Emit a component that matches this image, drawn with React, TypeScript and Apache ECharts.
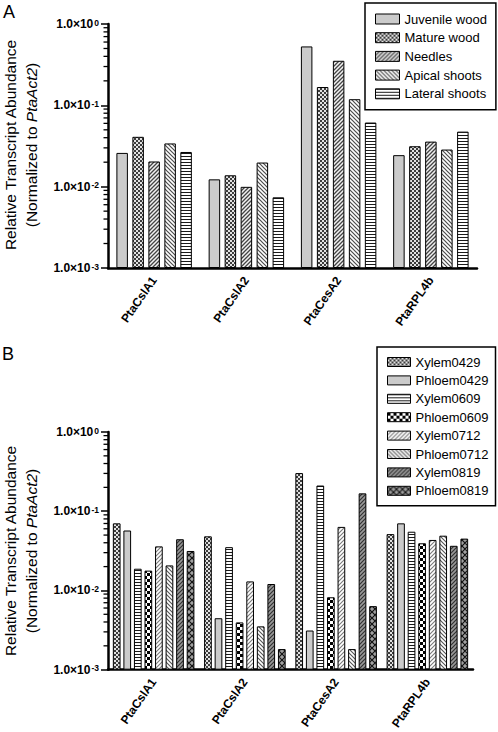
import React, { useEffect, useRef } from 'react';
import * as echarts from 'echarts';

const FONT = 'Liberation Sans, Arial, Helvetica, sans-serif';

const categories = ['PtaCslA1', 'PtaCslA2', 'PtaCesA2', 'PtaRPL4b'];

// Panel A
const namesA = ['Juvenile wood', 'Mature wood', 'Needles', 'Apical shoots', 'Lateral shoots'];
const juvenileWood = [0.026, 0.0123, 0.53, 0.0244];
const matureWood = [0.041, 0.0138, 0.168, 0.0314];
const needles = [0.0204, 0.00995, 0.353, 0.0358];
const apicalShoots = [0.034, 0.0198, 0.119, 0.0286];
const lateralShoots = [0.0267, 0.0074, 0.0614, 0.0475];

// Panel B
const namesB = ['Xylem0429', 'Phloem0429', 'Xylem0609', 'Phloem0609', 'Xylem0712', 'Phloem0712', 'Xylem0819', 'Phloem0819'];
const xylem0429 = [0.0703, 0.0482, 0.303, 0.0514];
const phloem0429 = [0.0571, 0.00446, 0.00312, 0.0703];
const xylem0609 = [0.0188, 0.0352, 0.211, 0.0551];
const phloem0609 = [0.0178, 0.00395, 0.0082, 0.0394];
const xylem0712 = [0.036, 0.013, 0.0634, 0.0434];
const phloem0712 = [0.0207, 0.00352, 0.00182, 0.0491];
const xylem0819 = [0.0443, 0.01206, 0.168, 0.0366];
const phloem0819 = [0.0315, 0.00182, 0.00634, 0.0451];

const yMin = 0.001;
const yMax = 1;
const minorTickValues = [
  0.002, 0.003, 0.004, 0.005, 0.006, 0.007, 0.008, 0.009,
  0.02, 0.03, 0.04, 0.05, 0.06, 0.07, 0.08, 0.09,
  0.2, 0.3, 0.4, 0.5, 0.6, 0.7, 0.8, 0.9,
];

type Kind = 'solid' | 'fineCheck' | 'fwd' | 'bwd' | 'horiz' | 'bigCheck' | 'fwdLight' | 'bwdB' | 'fwdDark' | 'cross';

function makePattern(kind: Kind): any {
  if (kind === 'solid') return '#cbcbcb';
  const c = document.createElement('canvas');
  const ctx = c.getContext('2d')!;
  const diag = (s: number, bg: string, stroke: string, lw: number, dir: 'f' | 'b' | 'x') => {
    c.width = s; c.height = s;
    ctx.fillStyle = bg; ctx.fillRect(0, 0, s, s);
    ctx.strokeStyle = stroke; ctx.lineWidth = lw; ctx.lineCap = 'square';
    ctx.beginPath();
    if (dir === 'f' || dir === 'x') {
      ctx.moveTo(0, s); ctx.lineTo(s, 0);
      ctx.moveTo(-2, 2); ctx.lineTo(2, -2);
      ctx.moveTo(s - 2, s + 2); ctx.lineTo(s + 2, s - 2);
    }
    if (dir === 'b' || dir === 'x') {
      ctx.moveTo(0, 0); ctx.lineTo(s, s);
      ctx.moveTo(-2, s - 2); ctx.lineTo(2, s + 2);
      ctx.moveTo(s - 2, -2); ctx.lineTo(s + 2, 2);
    }
    ctx.stroke();
  };
  switch (kind) {
    case 'fineCheck':
      c.width = 4; c.height = 4;
      ctx.fillStyle = '#e2e2e2'; ctx.fillRect(0, 0, 4, 4);
      ctx.fillStyle = '#3c3c3c'; ctx.fillRect(0, 0, 2, 2); ctx.fillRect(2, 2, 2, 2);
      break;
    case 'bigCheck':
      c.width = 6; c.height = 6;
      ctx.fillStyle = '#ffffff'; ctx.fillRect(0, 0, 6, 6);
      ctx.fillStyle = '#000000'; ctx.fillRect(0, 0, 3, 3); ctx.fillRect(3, 3, 3, 3);
      break;
    case 'horiz':
      c.width = 4; c.height = 3;
      ctx.fillStyle = '#ffffff'; ctx.fillRect(0, 0, 4, 3);
      ctx.fillStyle = '#1a1a1a'; ctx.fillRect(0, 0, 4, 1);
      break;
    case 'fwd': diag(4, '#f2f2f2', '#444', 1.3, 'f'); break;
    case 'bwd': diag(4, '#ffffff', '#4d4d4d', 1.2, 'b'); break;
    case 'fwdLight': diag(4, '#ffffff', '#7a7a7a', 1.1, 'f'); break;
    case 'bwdB': diag(4, '#ffffff', '#555', 1.1, 'b'); break;
    case 'fwdDark': diag(4, '#999999', '#333', 1.2, 'f'); break;
    case 'cross': diag(6, '#a0a0a0', '#111', 1.2, 'x'); break;
  }
  return { image: c, repeat: 'repeat' };
}

export default function App() {
  const ref = useRef<HTMLDivElement>(null);
  useEffect(() => {
    document.body.style.margin = '0';
    const chart = echarts.init(ref.current!, null, { renderer: 'svg' });

    const valuesA = [juvenileWood, matureWood, needles, apicalShoots, lateralShoots];
    const kindsA: Kind[] = ['solid', 'fineCheck', 'fwd', 'bwd', 'horiz'];
    const valuesB = [xylem0429, phloem0429, xylem0609, phloem0609, xylem0712, phloem0712, xylem0819, phloem0819];
    const kindsB: Kind[] = ['fineCheck', 'solid', 'horiz', 'bigCheck', 'fwdLight', 'bwdB', 'fwdDark', 'cross'];

    const yAxis = (gridIndex: number) => ({
      type: 'log', gridIndex, min: yMin, max: yMax, logBase: 10, startValue: yMin,
      axisLine: { show: true, lineStyle: { color: '#000', width: 2.5 } },
      axisTick: { show: true, length: 7, lineStyle: { color: '#000', width: 1.5 } },
      splitLine: { show: false },
      minorTick: { show: false },
      axisLabel: {
        margin: 9,
        color: '#000',
        formatter: (v: number) => `{b|1.0×10}{s|${Math.round(Math.log10(v))}}`,
        rich: {
          b: { fontSize: 12, fontWeight: 'bold', fontFamily: FONT, color: '#000', lineHeight: 20 },
          s: { fontSize: 8.5, fontWeight: 'bold', fontFamily: FONT, color: '#000', lineHeight: 9, verticalAlign: 'top', padding: [4, 0, 0, 1] },
        },
      },
    });
    const xAxis = (gridIndex: number) => ({
      type: 'category', gridIndex, data: categories,
      axisLine: { show: true, onZero: false, lineStyle: { color: '#000', width: 2.5 } },
      axisTick: { show: false },
      axisLabel: { rotate: 55, interval: 0, margin: 10, fontSize: 12, fontWeight: 'bold', fontFamily: FONT, color: '#000' },
    });
    const minorSeries = (idx: number) => ({
      type: 'custom', name: 'minor' + idx, xAxisIndex: idx, yAxisIndex: idx, silent: true, clip: false, z: 5,
      data: minorTickValues.map((v) => [0, v]),
      renderItem: (params: any, api: any) => {
        const y = api.coord([0, api.value(1)])[1];
        const x0 = params.coordSys.x;
        return { type: 'line', shape: { x1: x0 - 4.5, y1: y, x2: x0, y2: y }, style: { stroke: '#000', lineWidth: 1.3 } };
      },
    });

    const barsA = namesA.map((name, i) => ({
      type: 'bar', name, xAxisIndex: 0, yAxisIndex: 0, data: valuesA[i],
      barWidth: 11.5, barGap: '39%',
      itemStyle: { color: makePattern(kindsA[i]), borderColor: '#000', borderWidth: 1 },
    }));
    const barsB = namesB.map((name, i) => ({
      type: 'bar', name, xAxisIndex: 1, yAxisIndex: 1, data: valuesB[i],
      barWidth: 7.7, barGap: '37%',
      itemStyle: { color: makePattern(kindsB[i]), borderColor: '#000', borderWidth: 1 },
    }));

    const titleText = (y: number) => ({
      type: 'text', x: 20.5, y, rotation: Math.PI / 2,
      style: {
        text: 'Relative Transcript Abundance\n(Normalized to {i|PtaAct2})',
        fontSize: 15.5, fontFamily: FONT, fill: '#000', align: 'center', verticalAlign: 'middle', lineHeight: 21,
        rich: { i: { fontStyle: 'italic', fontSize: 15.5, fontFamily: FONT, lineHeight: 21, color: '#000' } },
      },
    });

    const legendCommon = {
      orient: 'vertical', icon: 'rect', selectedMode: false,
      backgroundColor: '#fff', borderColor: '#000', borderWidth: 1.5, borderRadius: 0,
      textStyle: { fontSize: 13, fontFamily: FONT, color: '#000', lineHeight: 14 },
      itemStyle: { borderColor: '#000', borderWidth: 1 },
    };

    chart.setOption({
      animation: false,
      textStyle: { fontFamily: FONT },
      grid: [
        { left: 108, top: 24, width: 369, height: 244 },
        { left: 108, top: 432, width: 365, height: 242 },
      ],
      xAxis: [xAxis(0), xAxis(1)],
      yAxis: [yAxis(0), yAxis(1)],
      legend: [
        { ...legendCommon, data: namesA, left: 365, top: 3, padding: [9, 9, 9, 10], itemGap: 4.7, itemWidth: 24, itemHeight: 10 },
        { ...legendCommon, data: namesB, left: 377, top: 347, padding: [8, 7, 8, 10], itemGap: 4.4, itemWidth: 23, itemHeight: 9 },
      ],
      graphic: [
        { type: 'text', x: 3, y: 3, style: { text: 'A', fontSize: 18, fontFamily: FONT, fill: '#000', align: 'left', verticalAlign: 'top' } },
        { type: 'text', x: 2, y: 345, style: { text: 'B', fontSize: 18, fontFamily: FONT, fill: '#000', align: 'left', verticalAlign: 'top' } },
        titleText(145),
        titleText(551),
      ],
      series: [...barsA, ...barsB, minorSeries(0), minorSeries(1)],
    });
    return () => chart.dispose();
  }, []);
  return <div ref={ref} style={{ width: 498, height: 732 }} />;
}
